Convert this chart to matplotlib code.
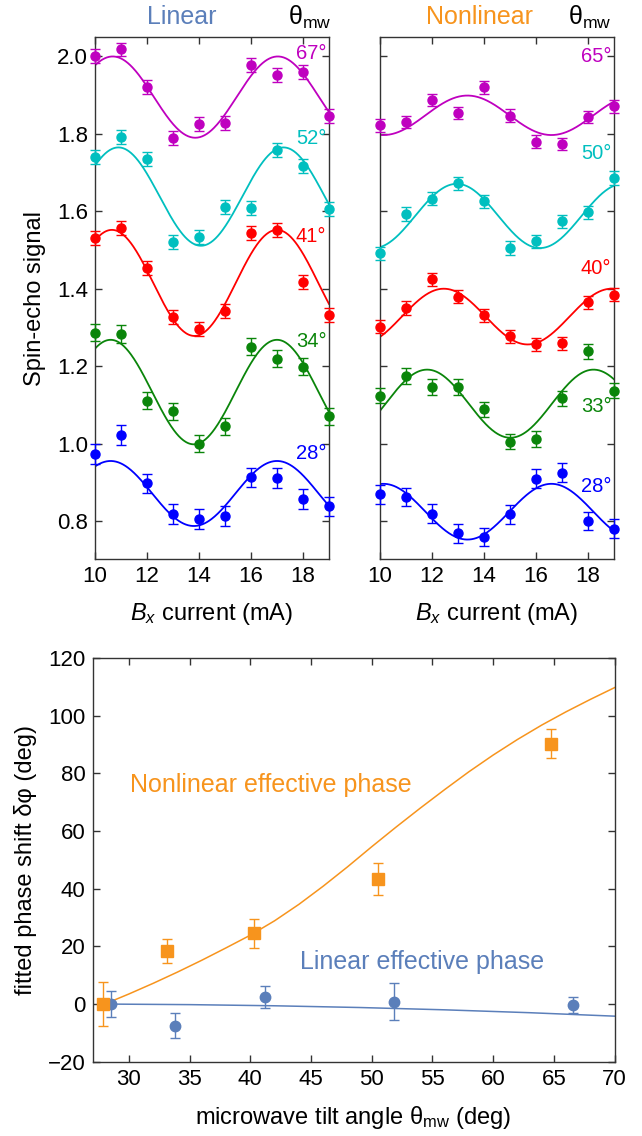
import numpy as np
import matplotlib
matplotlib.use("Agg")
import matplotlib.pyplot as plt

plt.rcParams['font.family'] = ['Liberation Sans', 'DejaVu Sans']
plt.rcParams['mathtext.fontset'] = 'custom'
plt.rcParams['mathtext.rm'] = 'Liberation Sans'
plt.rcParams['mathtext.it'] = 'Liberation Sans:italic'

# ---- top panels: spin-echo signal vs Bx current ----
current = [10, 11, 12, 13, 14, 15, 16, 17, 18, 19]
colors = ['#BF00BF', '#00BFBF', '#FF0000', '#0A850A', '#0000FF']

lin_angles = ['67°', '52°', '41°', '34°', '28°']
lin_signal = [
    [2.000, 2.018, 1.920, 1.790, 1.826, 1.829, 1.977, 1.951, 1.959, 1.847],
    [1.741, 1.793, 1.734, 1.521, 1.534, 1.612, 1.609, 1.759, 1.716, 1.606],
    [1.532, 1.557, 1.454, 1.327, 1.296, 1.343, 1.545, 1.552, 1.418, 1.333],
    [1.286, 1.283, 1.110, 1.084, 0.999, 1.045, 1.250, 1.219, 1.198, 1.071],
    [0.973, 1.022, 0.897, 0.818, 0.805, 0.813, 0.913, 0.911, 0.857, 0.838],
]
lin_err = [0.018, 0.018, 0.018, 0.022, 0.025]
# fitted cosine: offset, amplitude, position of maximum (mA), period (mA)
lin_fit_offset = [1.895, 1.638, 1.415, 1.133, 0.871]
lin_fit_amp = [0.105, 0.127, 0.137, 0.135, 0.084]
lin_fit_peak = [10.68, 10.90, 10.65, 10.60, 10.60]
lin_fit_period = [6.35, 6.35, 6.35, 6.40, 6.40]
lin_label_y = [2.008, 1.788, 1.534, 1.263, 0.975]

nl_angles = ['65°', '50°', '40°', '33°', '28°']
nl_signal = [
    [1.822, 1.830, 1.887, 1.854, 1.920, 1.847, 1.780, 1.774, 1.843, 1.871],
    [1.492, 1.593, 1.633, 1.672, 1.626, 1.505, 1.523, 1.574, 1.597, 1.686],
    [1.302, 1.350, 1.424, 1.379, 1.331, 1.277, 1.256, 1.259, 1.365, 1.384],
    [1.124, 1.174, 1.146, 1.146, 1.088, 1.005, 1.012, 1.117, 1.238, 1.137],
    [0.869, 0.862, 0.819, 0.768, 0.759, 0.817, 0.909, 0.925, 0.800, 0.780],
]
nl_err = [0.016, 0.017, 0.017, 0.020, 0.024]
nl_fit_offset = [1.848, 1.588, 1.328, 1.103, 0.824]
nl_fit_amp = [0.051, 0.083, 0.072, 0.088, 0.072]
nl_fit_peak = [13.36, 12.95, 12.45, 11.81, 10.13]
nl_fit_period = [6.46, 6.40, 6.45, 6.40, 6.46]
nl_label_y = [2.000, 1.750, 1.453, 1.097, 0.890]

# ---- bottom panel: fitted phase shift vs microwave tilt angle ----
nl_theta = [27.9, 33.1, 40.3, 50.5, 64.8]
nl_phase = [0.0, 18.4, 24.5, 43.3, 90.4]
nl_phase_err = [7.7, 4.0, 4.9, 5.6, 5.0]
lin_theta = [28.5, 33.8, 41.2, 51.8, 66.6]
lin_phase = [0.0, -7.5, 2.5, 0.8, -0.3]
lin_phase_err = [4.6, 4.3, 3.9, 6.4, 2.7]

nl_theory_theta = [28, 30, 32, 34, 36, 38, 40, 42, 44, 46, 48, 50,
                   52, 54, 56, 58, 60, 62, 64, 66, 68, 70]
nl_theory_phase = [0.0, 3.5, 7.2, 11.1, 15.2, 19.5, 23.9, 28.9, 34.6, 40.9, 47.6, 54.6,
                   61.4, 68.0, 74.4, 80.6, 86.4, 91.8, 96.8, 101.4, 105.7, 109.8]
lin_theory_theta = [28, 35, 42, 49, 56, 63, 70]
lin_theory_phase = [0.0, -0.2, -0.6, -1.2, -2.0, -3.0, -4.2]

ORANGE = '#F7941D'
BLUE = '#5B7FBA'

fig = plt.figure(figsize=(6.42, 11.36), dpi=100)
ax_lin = fig.add_axes([0.148, 0.508, 0.3645, 0.459])
ax_nl = fig.add_axes([0.592, 0.508, 0.3645, 0.459])
ax_ph = fig.add_axes([0.1441, 0.0649, 0.8132, 0.3562])


def style_axis(ax, size):
    ax.tick_params(direction='in', top=True, right=True, length=5, width=1,
                   labelsize=size, color='#333333', pad=5)
    for sp in ax.spines.values():
        sp.set_color('#333333')
        sp.set_linewidth(1.0)


xs = np.linspace(10, 19, 300)
for ax, signal, err, off, amp, peak, per, labels, label_y in [
        (ax_lin, lin_signal, lin_err, lin_fit_offset, lin_fit_amp, lin_fit_peak,
         lin_fit_period, lin_angles, lin_label_y),
        (ax_nl, nl_signal, nl_err, nl_fit_offset, nl_fit_amp, nl_fit_peak,
         nl_fit_period, nl_angles, nl_label_y)]:
    for i in range(5):
        ax.errorbar(current, signal[i], yerr=err[i], fmt='o', color=colors[i],
                    ms=6.5, capsize=3.5, elinewidth=1, capthick=1, clip_on=False, zorder=3)
        ax.plot(xs, off[i] + amp[i] * np.cos(2 * np.pi * (xs - peak[i]) / per[i]),
                color=colors[i], lw=1.3, zorder=2)
        ax.text(18.9, label_y[i], labels[i], color=colors[i], fontsize=14.5,
                ha='right', va='center')
    ax.set_xlim(10, 19)
    ax.set_ylim(0.702, 2.049)
    ax.set_xticks([10, 12, 14, 16, 18])
    ax.set_yticks([0.8, 1.0, 1.2, 1.4, 1.6, 1.8, 2.0])
    ax.set_xlabel(r'$B_x$ current (mA)', fontsize=17, labelpad=10)
    style_axis(ax, 16)

ax_lin.set_ylabel('Spin-echo signal', fontsize=17, labelpad=8)
ax_nl.set_yticklabels([])

fig.text(0.283, 0.985, 'Linear', color=BLUE, fontsize=18, ha='center', va='center')
fig.text(0.483, 0.985, r'θ$_{\mathrm{mw}}$', color='black', fontsize=18, ha='center', va='center')
fig.text(0.747, 0.985, 'Nonlinear', color=ORANGE, fontsize=18, ha='center', va='center')
fig.text(0.918, 0.985, r'θ$_{\mathrm{mw}}$', color='black', fontsize=18, ha='center', va='center')

# bottom panel
ax_ph.plot(nl_theory_theta, nl_theory_phase, color=ORANGE, lw=1.1, zorder=2)
ax_ph.plot(lin_theory_theta, lin_theory_phase, color=BLUE, lw=1.1, zorder=2)
ax_ph.errorbar(lin_theta, lin_phase, yerr=lin_phase_err, fmt='o', color=BLUE,
               ms=7.5, capsize=3.5, elinewidth=1, capthick=1, zorder=3)
ax_ph.errorbar(nl_theta, nl_phase, yerr=nl_phase_err, fmt='s', color=ORANGE,
               ms=8.5, capsize=3.5, elinewidth=1, capthick=1, zorder=4)
ax_ph.text(30.1, 76, 'Nonlinear effective phase', color=ORANGE, fontsize=18, va='center')
ax_ph.text(44.1, 14.6, 'Linear effective phase', color=BLUE, fontsize=18, va='center')
ax_ph.set_xlim(27, 70)
ax_ph.set_ylim(-20.2, 120.2)
ax_ph.set_xticks([30, 35, 40, 45, 50, 55, 60, 65, 70])
ax_ph.set_yticks([-20, 0, 20, 40, 60, 80, 100, 120])
ax_ph.set_xlabel(r'microwave tilt angle θ$_{\mathrm{mw}}$ (deg)', fontsize=17, labelpad=10)
ax_ph.set_ylabel('fitted phase shift δφ (deg)', fontsize=17, labelpad=8)
style_axis(ax_ph, 16)

fig.savefig('out.png', dpi=100)
